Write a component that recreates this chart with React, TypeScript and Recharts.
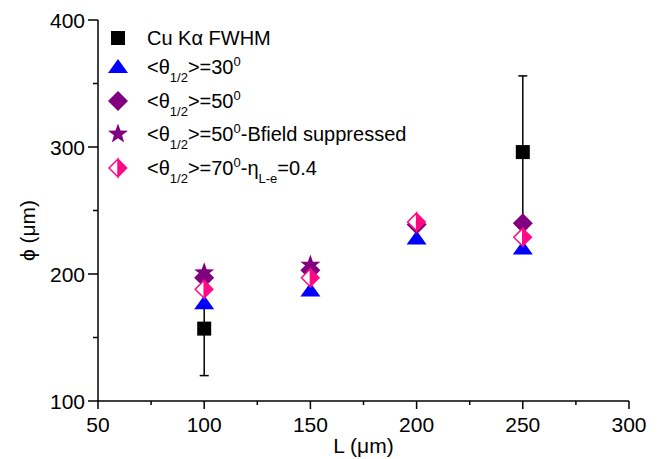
import { ErrorBar, Label, Legend, Scatter, ScatterChart, XAxis, YAxis } from "recharts";

const cuLengths = [100, 250];
const cuFwhm = [157, 296];
const cuFwhmErr = [37, 60];

const lengths = [100, 150, 200, 250];
const theta30 = [177, 187, 228, 220];
const theta50 = [197, 203, 239, 240];
const theta70 = [188, 197, 241, 229];

const bfieldLengths = [100, 150];
const theta50Bfield = [201, 207];

const xTicks = [50, 75, 100, 125, 150, 175, 200, 225, 250, 275, 300];
const yTicks = [100, 150, 200, 250, 300, 350, 400];

const font = '"Liberation Sans", Arial, sans-serif';
const blue = "#0000ff";
const purple = "#800080";
const pink = "#ff0a84";

const toPoints = (xs: number[], ys: number[], errs?: number[]) =>
  xs.map((x, i) => ({ x, y: ys[i], err: errs ? errs[i] : 0 }));

const cuData = toPoints(cuLengths, cuFwhm, cuFwhmErr);
const t30Data = toPoints(lengths, theta30);
const t50Data = toPoints(lengths, theta50);
const t70Data = toPoints(lengths, theta70);
const bfieldData = toPoints(bfieldLengths, theta50Bfield);
const frameData = [{ x: 50, y: 100 }];

// marker shapes
const square = (cx: number, cy: number) => <rect x={cx - 7} y={cy - 7} width={14} height={14} fill="#000" />;
const triangle = (cx: number, cy: number) => (
  <polygon points={`${cx},${cy - 8} ${cx + 10},${cy + 6} ${cx - 10},${cy + 6}`} fill={blue} />
);
const diamond = (cx: number, cy: number) => (
  <polygon points={`${cx},${cy - 10} ${cx + 10},${cy} ${cx},${cy + 10} ${cx - 10},${cy}`} fill={purple} />
);
const star = (cx: number, cy: number) => {
  const pts: string[] = [];
  for (let i = 0; i < 10; i++) {
    const r = i % 2 === 0 ? 10.5 : 4.3;
    const a = -Math.PI / 2 + (i * Math.PI) / 5;
    pts.push(`${cx + r * Math.cos(a)},${cy + r * Math.sin(a)}`);
  }
  return <polygon points={pts.join(" ")} fill={purple} />;
};
const halfDiamond = (cx: number, cy: number) => (
  <g>
    <polygon points={`${cx},${cy - 9} ${cx},${cy + 9} ${cx - 9},${cy}`} fill="#fff" stroke={pink} strokeWidth={1.5} />
    <polygon points={`${cx},${cy - 9.7} ${cx + 9.7},${cy} ${cx},${cy + 9.7}`} fill={pink} />
  </g>
);

const shapeOf = (draw: (cx: number, cy: number) => JSX.Element) => (props: any) => draw(props.cx, props.cy);

function BottomTick({ x, y, payload }: any) {
  const major = payload.value % 50 === 0;
  return (
    <g>
      <line x1={x} x2={x} y1={y} y2={y + (major ? 8 : 4)} stroke="#000" strokeWidth={1.5} />
      {major && (
        <text x={x} y={y + 31} textAnchor="middle" fontFamily={font} fontSize={21} fill="#000">
          {payload.value}
        </text>
      )}
    </g>
  );
}

function LeftTick({ x, y, payload }: any) {
  const major = payload.value % 100 === 0;
  return (
    <g>
      <line x1={x - (major ? 10 : 5)} x2={x} y1={y} y2={y} stroke="#000" strokeWidth={1.5} />
      {major && (
        <text x={x - 13} y={y + 8} textAnchor="end" fontFamily={font} fontSize={21} fill="#000">
          {payload.value}
        </text>
      )}
    </g>
  );
}

function TopTick({ x, y, payload }: any) {
  const major = payload.value % 50 === 0;
  return <line x1={x} x2={x} y1={y} y2={y + (major ? 8 : 5)} stroke="#000" strokeWidth={1.5} />;
}

function RightTick({ x, y, payload }: any) {
  const major = payload.value % 100 === 0;
  return <line x1={x - (major ? 8 : 5)} x2={x} y1={y} y2={y} stroke="#000" strokeWidth={1.5} />;
}

const sub = (t: string) => <span style={{ fontSize: 13, position: "relative", top: 8 }}>{t}</span>;
const sup = (t: string) => <span style={{ fontSize: 13, position: "relative", top: -8 }}>{t}</span>;

const legendRows = [
  { name: "Cu Kα FWHM", draw: square, text: <>Cu Kα FWHM</> },
  { name: "theta30", draw: triangle, text: <>&lt;θ{sub("1/2")}&gt;=30{sup("0")}</> },
  { name: "theta50", draw: diamond, text: <>&lt;θ{sub("1/2")}&gt;=50{sup("0")}</> },
  { name: "bfield", draw: star, text: <>&lt;θ{sub("1/2")}&gt;=50{sup("0")}-Bfield suppressed</> },
  { name: "theta70", draw: halfDiamond, text: <>&lt;θ{sub("1/2")}&gt;=70{sup("0")}-η{sub("L-e")}=0.4</> },
];
const rowCenters = [14, 43, 77, 110, 144];

function LegendBox() {
  return (
    <div style={{ position: "relative", width: 330, height: 165, fontFamily: font, fontSize: 20, color: "#000" }}>
      {legendRows.map((row, i) => (
        <div
          key={row.name}
          style={{ position: "absolute", left: 0, top: rowCenters[i] - 14, height: 28, display: "flex", alignItems: "center", whiteSpace: "nowrap", lineHeight: 1 }}
        >
          <svg width={24} height={28}>{row.draw(12, 14)}</svg>
          <span style={{ marginLeft: 17 }}>{row.text}</span>
        </div>
      ))}
    </div>
  );
}

export default function App() {
  return (
    <div style={{ position: "absolute", left: 0, top: 0, background: "#fff" }}>
      <ScatterChart width={664} height={459} margin={{ top: 20, right: 35, bottom: 0, left: 0 }}>
        <XAxis
          xAxisId={0}
          type="number"
          dataKey="x"
          domain={[50, 300]}
          ticks={xTicks}
          interval={0}
          allowDataOverflow
          height={58}
          tickSize={0}
          tickMargin={0}
          tick={<BottomTick />}
          tickLine={false}
          axisLine={{ stroke: "#000", strokeWidth: 1.5 }}
        >
          <Label
            content={({ viewBox }: any) => (
              <text x={viewBox.x + viewBox.width / 2} y={viewBox.y + 52} textAnchor="middle" fontFamily={font} fontSize={21} fill="#000">
                L (μm)
              </text>
            )}
          />
        </XAxis>
        <YAxis
          yAxisId={0}
          type="number"
          dataKey="y"
          domain={[100, 400]}
          ticks={yTicks}
          interval={0}
          allowDataOverflow
          width={98}
          tickSize={0}
          tickMargin={0}
          tick={<LeftTick />}
          tickLine={false}
          axisLine={{ stroke: "#000", strokeWidth: 1.5 }}
        >
          <Label
            content={({ viewBox }: any) => {
              const cx = viewBox.x + 27;
              const cy = viewBox.y + viewBox.height / 2 + 20;
              return (
                <text x={cx} y={cy} transform={`rotate(-90 ${cx} ${cy})`} textAnchor="middle" dominantBaseline="central" fontFamily={font} fontSize={21} fill="#000">
                  ϕ (μm)
                </text>
              );
            }}
          />
        </YAxis>
        <XAxis
          xAxisId="top"
          orientation="top"
          type="number"
          dataKey="x"
          domain={[50, 300]}
          ticks={xTicks}
          interval={0}
          allowDataOverflow
          height={0}
          tickSize={0}
          tickMargin={0}
          tick={<TopTick />}
          tickLine={false}
          axisLine={{ stroke: "#000", strokeWidth: 1.5 }}
        />
        <YAxis
          yAxisId="right"
          orientation="right"
          type="number"
          dataKey="y"
          domain={[100, 400]}
          ticks={yTicks}
          interval={0}
          allowDataOverflow
          width={0}
          tickSize={0}
          tickMargin={0}
          tick={<RightTick />}
          tickLine={false}
          axisLine={{ stroke: "#000", strokeWidth: 1.5 }}
        />
        <Legend
          layout="vertical"
          align="center"
          verticalAlign="middle"
          wrapperStyle={{ left: 106, top: 24, width: 330, height: 165 }}
          content={() => <LegendBox />}
        />
        <Scatter xAxisId="top" yAxisId="right" data={frameData} shape={() => <g />} legendType="none" isAnimationActive={false} />
        <Scatter name="theta30" data={t30Data} shape={shapeOf(triangle)} isAnimationActive={false} />
        <Scatter name="theta50" data={t50Data} shape={shapeOf(diamond)} isAnimationActive={false} />
        <Scatter name="bfield" data={bfieldData} shape={shapeOf(star)} isAnimationActive={false} />
        <Scatter name="theta70" data={t70Data} shape={shapeOf(halfDiamond)} isAnimationActive={false} />
        <Scatter name="Cu Kα FWHM" data={cuData} shape={shapeOf(square)} isAnimationActive={false}>
          <ErrorBar dataKey="err" direction="y" width={4.5} stroke="#000" strokeWidth={1.5} />
        </Scatter>
      </ScatterChart>
    </div>
  );
}
